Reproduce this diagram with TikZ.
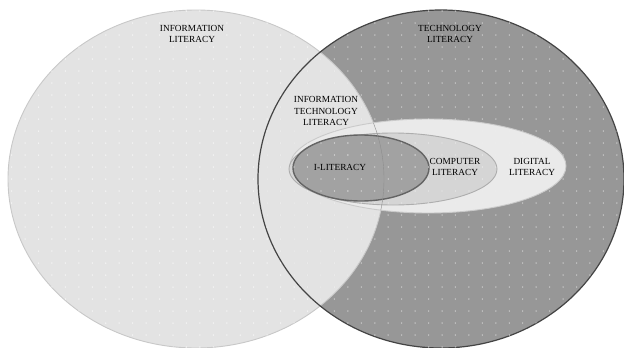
\documentclass[tikz,border=0pt]{standalone}
\usepackage{fontspec}
\setmainfont{Liberation Serif}

\definecolor{infofill}{HTML}{E3E3E3}
\definecolor{infoline}{HTML}{C8C8C8}
\definecolor{techfill}{HTML}{979797}
\definecolor{techline}{HTML}{444444}
\definecolor{digfill}{HTML}{EAEAEA}
\definecolor{digline}{HTML}{CACACA}
\definecolor{compfill}{HTML}{D5D5D5}
\definecolor{compline}{HTML}{ADADAD}
\definecolor{ilitfill}{HTML}{A2A2A2}
\definecolor{ilitline}{HTML}{646464}

\begin{document}
\begin{tikzpicture}[x=1pt, y=-1pt,
    lbl/.style={align=center, inner sep=0pt, text=black,
      font=\fontsize{9.3}{11.5}\selectfont}]
    \useasboundingbox (0,0) rectangle (624,348);

    % the two big circles
    \fill[techfill] (441,179) ellipse [x radius=183, y radius=169];
    \filldraw[fill=infofill, draw=infoline, line width=0.9pt] (196,179) ellipse [x radius=188, y radius=169];
    \draw[techline, line width=1.2pt] (441,179) ellipse [x radius=183, y radius=169];

    % dots
    \begin{scope}
      \clip (441,179) ellipse [x radius=183, y radius=169];
      \foreach \i in {0,...,46}
        \foreach \j in {0,...,28}
          \fill[white!82!black] ({11.6+13.45*\i},{11+12*\j}) circle (0.75pt);
    \end{scope}
    \begin{scope}
      \clip (196,179) ellipse [x radius=188, y radius=169];
      \foreach \i in {0,...,46}
        \foreach \j in {0,...,28}
          \fill[white!97!black] ({11.6+13.45*\i},{11+12*\j}) circle (0.75pt);
    \end{scope}

    % inner ovals
    \filldraw[fill=digfill, draw=digline, line width=0.9pt] (428,166) ellipse [x radius=138, y radius=47];
    \filldraw[fill=compfill, draw=compline, line width=0.9pt] (393,169) ellipse [x radius=104, y radius=36];
    \filldraw[fill=ilitfill, draw=ilitline, line width=1.4pt] (361,168) ellipse [x radius=68, y radius=33];
    \begin{scope}
      \clip (428,166) ellipse [x radius=138, y radius=47];
      \draw[black!45] (196,179) ellipse [x radius=188, y radius=169];
      \foreach \i in {20,...,42}
        \foreach \j in {9,...,18}
          \fill[white!93!black] ({11.6+13.45*\i},{11+12*\j}) circle (0.65pt);
    \end{scope}

    % labels
    \node[lbl] (infolit) at (192,34) {INFORMATION\\LITERACY};
    \node[lbl] (techlit) at (450,34) {TECHNOLOGY\\LITERACY};
    \node[lbl] (itlit) at (326,111) {INFORMATION\\TECHNOLOGY\\LITERACY};
    \node[lbl] (ilit) at (340,167) {I-LITERACY};
    \node[lbl] (complit) at (455,167) {COMPUTER\\LITERACY};
    \node[lbl] (diglit) at (532,167) {DIGITAL\\LITERACY};
\end{tikzpicture}
\end{document}
